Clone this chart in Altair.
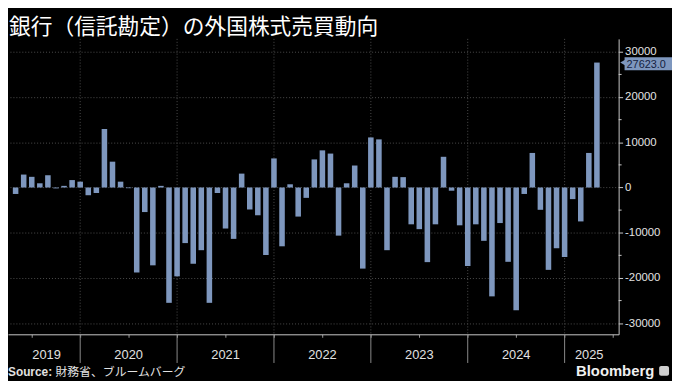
import altair as alt
import pandas as pd

# ---- data ----
start_month = "2019-04"
values = [
    -1430, 2860, 2360, 930, 2710, -200, 360, 1640, 1290,
    -1710, -1210, 12930, 5710, 1290, -150, -18790, -5430, -17210, 360, -25500, -19640, -12290, -16860, -13860,
    -25500, -1210, -9070, -11360, 3070, -4860, -6140, -14930, 6430, -13000, 710, -6430,
    -2290, 6210, 8210, 7500, -10640, 930, 4860, -17930, 11070, 10640, -13860, 2360,
    2290, -8140, -9210, -16500, -8140, 6790, -710, -8360, -17360, -8140, -11790, -24070,
    -7860, -16430, -27140, -1430, 7640, -4930, -18210, -13430, -15360, -2570, -7500, 7640,
    27623,
]
years = ["2019", "2020", "2021", "2022", "2023", "2024", "2025"]
y_ticks = [-30000, -20000, -10000, 0, 10000, 20000, 30000]
y_minor = [-25000, -15000, -5000, 5000, 15000, 25000]
title_text = "銀行（信託勘定）の外国株式売買動向"
source_label = "Source:"
source_text = "財務省、ブルームバーグ"
brand = "Bloomberg"

# ---- derived tables ----
months = pd.period_range(start_month, periods=len(values), freq="M")
df = pd.DataFrame({
    "month": [str(m) for m in months],
    "i": [(m.year - 2019) * 12 + m.month - 4 for m in months],
    "v": values,
})
# year boundaries (December, month-end) in index units
bounds = [(int(y) - 2019) * 12 + 8 for y in years[:-1]]
x_lo, x_hi = -0.33, 74.08
edges = [x_lo] + bounds + [x_hi]
yl = pd.DataFrame({"year": years, "c": [(edges[k] + edges[k + 1]) / 2 for k in range(len(years))]})
bd = pd.DataFrame({"b": bounds})
quarter_ticks = [q for q in range(2, 75, 3)]
last = df.tail(1)
minor = pd.DataFrame({"m": y_minor})

W, H = 618, 299
BAR = "#7e97be"
GRID = "#4d4d4d"
AX = "#c8c8c8"
TXT = "#e2e2e2"
LATIN = "Liberation Sans"
CJK = "Noto Sans CJK JP"

xs = alt.Scale(domain=[x_lo, x_hi], nice=False, zero=False)
ys = alt.Scale(domain=[-32460, 32860], nice=False, zero=False)

bars = alt.Chart(df).mark_bar(size=5.6, color=BAR, orient="vertical").encode(
    x=alt.X("i:Q", scale=xs, title=None,
            axis=alt.Axis(values=quarter_ticks, labels=False, grid=False, ticks=True,
                          tickSize=3, tickColor="#9a9a9a", domainColor=AX, domainWidth=1)),
    y=alt.Y("v:Q", scale=ys, title=None,
            axis=alt.Axis(orient="right", values=y_ticks, grid=True, gridColor=GRID,
                          gridDash=[1, 2], gridWidth=1, tickSize=4, tickColor=AX,
                          domainColor=AX, labelColor=TXT, labelFont=LATIN, labelFontSize=11.5,
                          labelPadding=2,
                          labelExpr="datum.value < 0 ? '-' + abs(datum.value) : '' + datum.value")),
    y2=alt.datum(0),
)

sep_in = alt.Chart(bd).mark_rule(color=GRID, strokeDash=[1, 2], strokeWidth=1).encode(
    x=alt.X("b:Q", scale=xs), y=alt.value(0), y2=alt.value(H))
sep_out = alt.Chart(bd).mark_rule(color="#8a8a8a", strokeWidth=1).encode(
    x=alt.X("b:Q", scale=xs), y=alt.value(H), y2=alt.value(H + 29))

year_lbl = alt.Chart(yl).mark_text(color=TXT, font=LATIN, fontSize=13, baseline="middle").encode(
    x=alt.X("c:Q", scale=xs), y=alt.value(H + 21), text="year:N")

minor_ticks = alt.Chart(minor).mark_rule(color=AX, strokeWidth=1).encode(
    y=alt.Y("m:Q", scale=ys), x=alt.value(W), x2=alt.value(W + 3))

tag = alt.Chart(last).transform_calculate(
    hi="datum.v + 1150", lo="datum.v - 1700").mark_rect(color=BAR).encode(
    y=alt.Y("hi:Q", scale=ys), y2="lo:Q", x=alt.value(W + 6), x2=alt.value(W + 54))
tag_tip = alt.Chart(last).mark_point(shape="triangle-left", filled=True, color=BAR,
                                      size=60, opacity=1).encode(
    y=alt.Y("v:Q", scale=ys), x=alt.value(W + 5))
tag_txt = alt.Chart(last).mark_text(color="#14223e", font=LATIN, fontSize=11, align="left",
                                     baseline="middle", dy=2).encode(
    y=alt.Y("v:Q", scale=ys), x=alt.value(W + 8), text=alt.Text("v:Q", format=".1f"))

title = alt.Chart(pd.DataFrame({"t": [title_text]})).mark_text(
    color="#ffffff", font=CJK, fontSize=22, align="left", baseline="top").encode(
    x=alt.value(1), y=alt.value(-22), text="t:N")
src1 = alt.Chart(pd.DataFrame({"t": [source_label]})).mark_text(
    color=TXT, font=LATIN, fontSize=12, fontWeight="bold", align="left", baseline="middle").encode(
    x=alt.value(0), y=alt.value(H + 38), text="t:N")
src2 = alt.Chart(pd.DataFrame({"t": [source_text]})).mark_text(
    color=TXT, font=CJK, fontSize=12, align="left", baseline="middle").encode(
    x=alt.value(48), y=alt.value(H + 38), text="t:N")
brand_txt = alt.Chart(pd.DataFrame({"t": [brand]})).mark_text(
    color="#f0f0f0", font=LATIN, fontSize=15, fontWeight="bold", align="right", baseline="middle").encode(
    x=alt.value(W + 36), y=alt.value(H + 37), text="t:N")
logo = alt.Chart(pd.DataFrame({"t": [brand]})).mark_rect(color="#cfcfcf", cornerRadius=2).encode(
    x=alt.value(W + 41), x2=alt.value(W + 51), y=alt.value(H + 32), y2=alt.value(H + 42))

chart = alt.layer(
    sep_in, bars, sep_out, year_lbl, minor_ticks, tag, tag_tip, tag_txt,
    title, src1, src2, brand_txt, logo,
).properties(
    width=W, height=H, background="#000000",
    padding={"top": 6, "left": 0, "right": 0, "bottom": 0},
).configure_view(strokeWidth=0)

chart.save("out.html", embed_options={"renderer": "svg", "actions": False})
